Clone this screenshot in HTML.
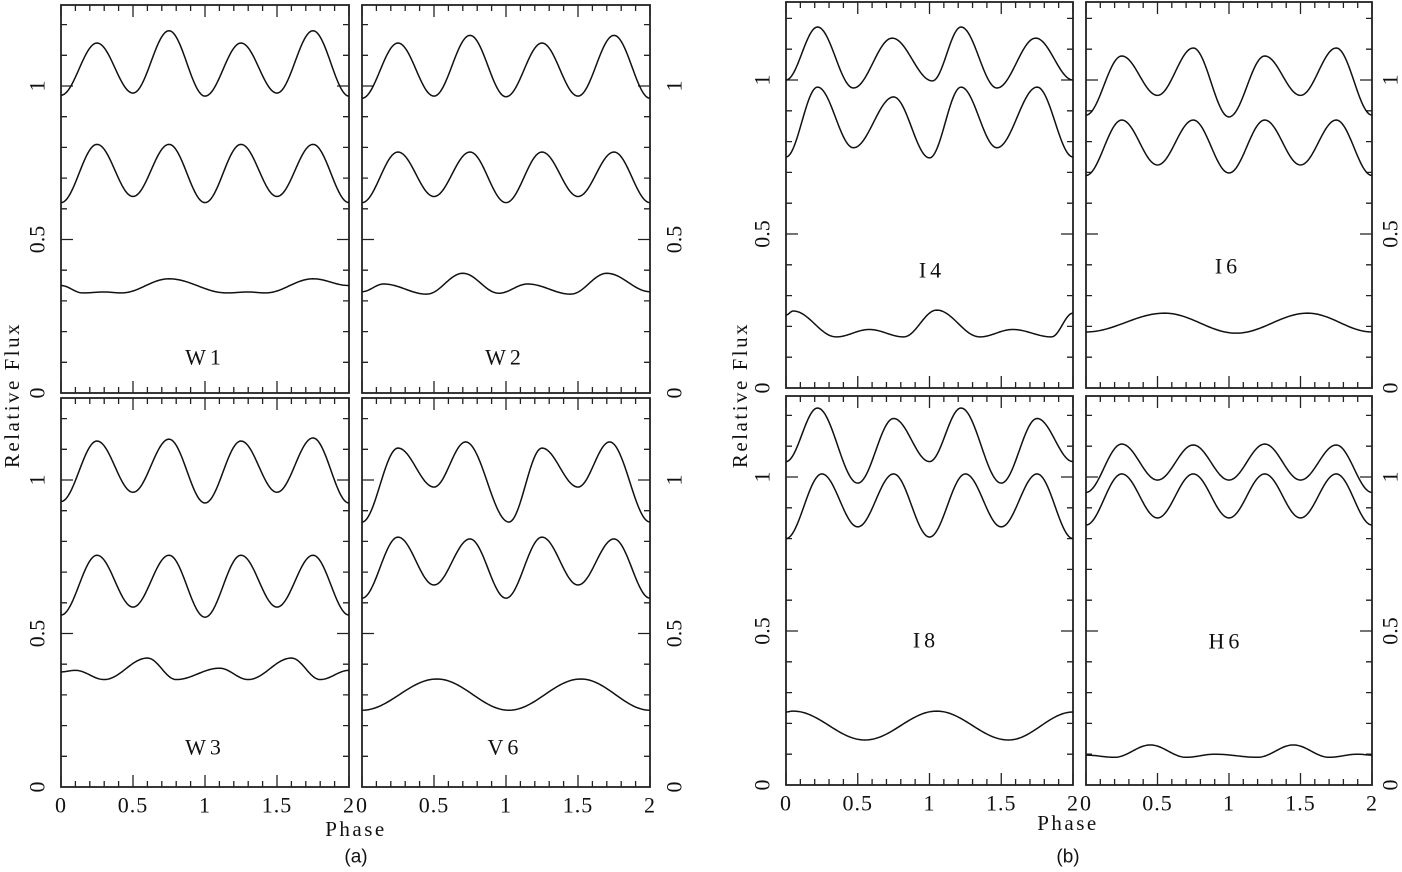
<!DOCTYPE html>
<html><head><meta charset="utf-8"><style>
html,body{margin:0;padding:0;background:#fff}
svg{display:block}
text{font-family:"Liberation Serif","DejaVu Serif",serif;fill:#111}
</style></head><body>
<svg id="fig" width="1402" height="872" viewBox="0 0 1402 872" xmlns="http://www.w3.org/2000/svg"></svg>
<script>
// ---- data: extrema points [phase, relative flux] ----
const xTicks = [0, 0.5, 1, 1.5, 2];
const xTickLabels = ["0", "0.5", "1", "1.5", "2"];
const yTicks = [0, 0.5, 1];
const yTickLabels = ["0", "0.5", "1"];

const w1Top = [[0,0.97],[0.25,1.14],[0.5,0.977],[0.75,1.18],[1,0.967],[1.25,1.14],[1.5,0.977],[1.75,1.18],[2,0.967]];
const w1Mid = [[0,0.62],[0.25,0.81],[0.5,0.64],[0.75,0.81],[1,0.62],[1.25,0.81],[1.5,0.64],[1.75,0.81],[2,0.62]];
const w1Low = [[0,0.35],[0.15,0.326],[0.3,0.329],[0.42,0.326],[0.75,0.372],[1.15,0.326],[1.3,0.329],[1.42,0.326],[1.75,0.372],[2,0.35]];

const w2Top = [[0,0.96],[0.25,1.14],[0.5,0.967],[0.75,1.165],[1,0.965],[1.25,1.14],[1.5,0.967],[1.75,1.165],[2,0.96]];
const w2Mid = [[0,0.62],[0.25,0.785],[0.5,0.64],[0.75,0.785],[1,0.62],[1.25,0.785],[1.5,0.64],[1.75,0.785],[2,0.62]];
const w2Low = [[0,0.33],[0.15,0.355],[0.45,0.322],[0.7,0.39],[0.95,0.325],[1.15,0.355],[1.45,0.322],[1.7,0.39],[2,0.33]];

const w3Top = [[0,0.93],[0.25,1.127],[0.5,0.96],[0.75,1.133],[1,0.925],[1.25,1.127],[1.5,0.96],[1.75,1.137],[2,0.925]];
const w3Mid = [[0,0.56],[0.25,0.755],[0.5,0.586],[0.75,0.755],[1,0.553],[1.25,0.755],[1.5,0.586],[1.75,0.755],[2,0.56]];
const w3Low = [[0,0.375],[0.1,0.38],[0.3,0.35],[0.6,0.42],[0.8,0.35],[1.1,0.387],[1.3,0.35],[1.6,0.42],[1.8,0.35],[2,0.38]];

const v6Top = [[0,0.863],[0.25,1.104],[0.5,0.977],[0.72,1.124],[1.02,0.863],[1.25,1.104],[1.5,0.977],[1.72,1.124],[2,0.863]];
const v6Mid = [[0,0.615],[0.25,0.814],[0.5,0.658],[0.75,0.808],[1,0.615],[1.25,0.814],[1.5,0.658],[1.75,0.808],[2,0.615]];
const v6Low = [[0,0.25],[0.52,0.352],[1.02,0.25],[1.52,0.352],[2,0.25]];

const i4Top = [[0,1.0],[0.22,1.172],[0.47,0.974],[0.74,1.136],[1.02,0.997],[1.22,1.172],[1.47,0.974],[1.74,1.136],[2,1.0]];
const i4Mid = [[0,0.75],[0.22,0.977],[0.47,0.78],[0.75,0.945],[1,0.747],[1.22,0.977],[1.47,0.78],[1.75,0.977],[2,0.75]];
const i4Low = [[0,0.237],[0.05,0.25],[0.35,0.166],[0.58,0.19],[0.82,0.166],[1.05,0.253],[1.35,0.166],[1.58,0.19],[1.85,0.166],[2,0.243]];

const i6Top = [[0,0.886],[0.25,1.078],[0.5,0.95],[0.75,1.104],[1,0.88],[1.25,1.078],[1.5,0.95],[1.75,1.104],[2,0.886]];
const i6Mid = [[0,0.69],[0.25,0.87],[0.5,0.724],[0.75,0.87],[1,0.698],[1.25,0.87],[1.5,0.724],[1.75,0.87],[2,0.69]];
const i6Low = [[0,0.182],[0.55,0.243],[1.05,0.178],[1.55,0.243],[2,0.182]];

const i8Top = [[0,1.05],[0.22,1.224],[0.5,0.98],[0.75,1.19],[1,1.05],[1.22,1.224],[1.5,0.98],[1.75,1.19],[2,1.05]];
const i8Mid = [[0,0.80],[0.25,1.01],[0.5,0.838],[0.75,1.01],[1,0.805],[1.25,1.01],[1.5,0.838],[1.75,1.01],[2,0.80]];
const i8Low = [[0,0.237],[0.05,0.24],[0.55,0.146],[1.05,0.24],[1.55,0.146],[2,0.237]];

const h6Top = [[0,0.95],[0.25,1.107],[0.5,0.99],[0.75,1.104],[1,0.99],[1.25,1.107],[1.5,0.99],[1.75,1.104],[2,0.95]];
const h6Mid = [[0,0.844],[0.25,1.01],[0.5,0.867],[0.75,1.01],[1,0.867],[1.25,1.01],[1.5,0.867],[1.75,1.01],[2,0.844]];
const h6Low = [[0,0.097],[0.2,0.09],[0.45,0.13],[0.7,0.09],[0.9,0.1],[1.2,0.09],[1.45,0.13],[1.7,0.09],[1.9,0.1],[2,0.097]];

const panels = [
  {name:"W1", x0:61, x1:349, top:5, y0:393, ppu:307, side:"left", off:24, bottom:false, lx:205, ly:357, series:[w1Top,w1Mid,w1Low]},
  {name:"W2", x0:362, x1:650, top:5, y0:393, ppu:307, side:"right", off:24, bottom:false, lx:505, ly:357, series:[w2Top,w2Mid,w2Low]},
  {name:"W3", x0:61, x1:349, top:398, y0:787, ppu:307, side:"left", off:24, bottom:true, lx:205, ly:747, series:[w3Top,w3Mid,w3Low]},
  {name:"V6", x0:362, x1:650, top:398, y0:787, ppu:307, side:"right", off:24, bottom:true, lx:505, ly:747, series:[v6Top,v6Mid,v6Low]},
  {name:"I4", x0:786, x1:1073, top:2, y0:388, ppu:308, side:"left", off:24, bottom:false, lx:932, ly:270, series:[i4Top,i4Mid,i4Low]},
  {name:"I6", x0:1086, x1:1372, top:2, y0:388, ppu:308, side:"right", off:18, bottom:false, lx:1228, ly:266, series:[i6Top,i6Mid,i6Low]},
  {name:"I8", x0:786, x1:1073, top:396, y0:785, ppu:308, side:"left", off:24, bottom:true, lx:926, ly:640, series:[i8Top,i8Mid,i8Low]},
  {name:"H6", x0:1086, x1:1372, top:396, y0:785, ppu:308, side:"right", off:18, bottom:true, lx:1226, ly:641, series:[h6Top,h6Mid,h6Low]}
];

const NS = "http://www.w3.org/2000/svg";
const svg = document.getElementById("fig");
function mk(tag, attrs, parent){
  const e = document.createElementNS(NS, tag);
  for (const k in attrs) e.setAttribute(k, attrs[k]);
  (parent||svg).appendChild(e);
  return e;
}
function txt(parent, x, y, s, size, rot, ls){
  const t = mk("text", {x:x, y:y, "font-size":size, "text-anchor":"middle", "dominant-baseline":"central", "letter-spacing":ls||0}, parent);
  if (rot) t.setAttribute("transform", "rotate(" + rot + " " + x + " " + y + ")");
  t.textContent = s;
  return t;
}

panels.forEach(function(p, pi){
  const g = mk("g", {});
  
  
  const xs = function(v){ return p.x0 + (p.x1 - p.x0) * v / 2; };
  const ys = function(v){ return p.y0 - v * p.ppu; };
  const clipId = "clip" + pi;
  const cp = mk("clipPath", {id: clipId}, g);
  mk("rect", {x:p.x0, y:p.top, width:p.x1-p.x0, height:p.y0-p.top}, cp);

  let d = "";
  for (let i = 0; i <= 20; i++) {
    const v = i / 10, X = xs(v), L = (i % 5 === 0) ? 12 : 6;
    d += "M" + X + " " + p.y0 + "v" + (-L) + "M" + X + " " + p.top + "v" + L;
  }
  const maxY = (p.y0 - p.top) / p.ppu;
  for (let i = 1; i / 10 <= maxY; i++) {
    const v = i / 10, Y = ys(v), L = (i % 5 === 0) ? 12 : 6;
    d += "M" + p.x0 + " " + Y + "h" + L + "M" + p.x1 + " " + Y + "h" + (-L);
  }
  const tk = mk("path", {d:d, stroke:"#222", "stroke-width":1.3, fill:"none"}, g);
  
  

  const fr = mk("rect", {x:p.x0, y:p.top, width:p.x1-p.x0, height:p.y0-p.top, fill:"none", stroke:"#222", "stroke-width":1.8}, g);
  
  

  yTicks.forEach(function(v, i){
    const Y = ys(v);
    const lx = p.side === "left" ? p.x0 - p.off : p.x1 + p.off;
    const t = txt(g, lx, Y, yTickLabels[i], 22, -90, 0);
    
    
  });
  if (p.bottom) {
    xTicks.forEach(function(v, i){
      const t = txt(g, xs(v), p.y0 + 18, xTickLabels[i], 22, 0, 1);
      
      
    });
  }

  p.series.forEach(function(pts, si){
    let path = "";
    for (let k = 0; k < pts.length - 1; k++) {
      const a = pts[k], b = pts[k+1];
      for (let s = 0; s <= 24; s++) {
        if (k > 0 && s === 0) continue;
        const f = s / 24, e = (1 - Math.cos(Math.PI * f)) / 2;
        const X = xs(a[0] + (b[0] - a[0]) * f), Y = ys(a[1] + (b[1] - a[1]) * e);
        path += (path ? "L" : "M") + X.toFixed(2) + " " + Y.toFixed(2);
      }
    }
    const c = mk("path", {d:path, fill:"none", stroke:"#111", "stroke-width":1.5, "clip-path":"url(#" + clipId + ")"}, g);
    
    
  });

  const lb = txt(g, p.lx, p.ly, p.name, 22, 0, 4);
  
  
});

[[12, 395, "Relative Flux", -90, "y-axis-title-a"], [740, 395, "Relative Flux", -90, "y-axis-title-b"],
 [356, 829, "Phase", 0, "x-axis-title-a"], [1068, 823, "Phase", 0, "x-axis-title-b"]].forEach(function(a){
  const t = txt(svg, a[0], a[1], a[2], 21, a[3], 2.5);
  
  
});
[[356, 857, "(a)", "caption-a"], [1068, 857, "(b)", "caption-b"]].forEach(function(a){
  const t = txt(svg, a[0], a[1], a[2], 19, 0, 0);
  t.setAttribute("style", "font-family:'Liberation Sans',sans-serif");
  
  
});
</script>
</body></html>
